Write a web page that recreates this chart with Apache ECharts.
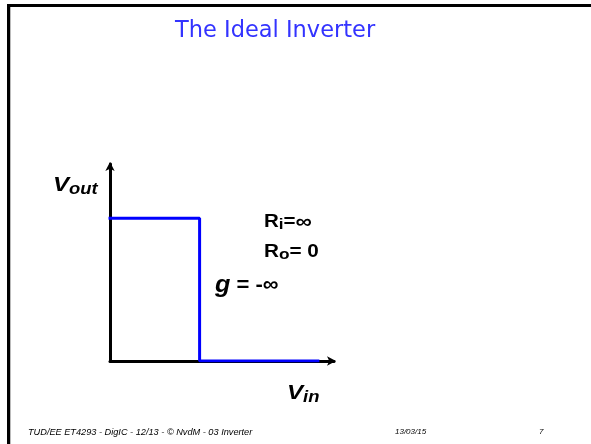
<!DOCTYPE html>
<html>
<head>
<meta charset="utf-8">
<script src="https://cdn.jsdelivr.net/npm/echarts@6/dist/echarts.min.js"></script>
<style>html,body{margin:0;padding:0;background:#fff}#c{width:591px;height:444px}</style>
</head>
<body>
<div id="c"></div>
<script>
// Transfer characteristic of the ideal inverter (Vin, Vout)
var vinValues = [0, 1, 1, 2.32];
var voutValues = [1, 1, 0, 0];
var titleText = 'The Ideal Inverter';
var footerLeft = 'TUD/EE ET4293 - DigIC - 12/13 - \u00a9 NvdM - 03 Inverter';
var footerDate = '13/03/15';
var footerPage = '7';

var seriesData = vinValues.map(function (v, i) { return [v, voutValues[i]]; });
var chart = echarts.init(document.getElementById('c'), null, {renderer: 'canvas'});
var F = 'Liberation Sans, Arial, sans-serif';
chart.setOption({
  animation: false,
  backgroundColor: '#fff',
  grid: {left: 110, top: 164, width: 224, height: 197, containLabel: false},
  xAxis: {
    type: 'value', min: 0, max: 2.5,
    axisLine: {show: true, onZero: false, symbol: ['none', 'arrow'], symbolSize: [7, 9], symbolOffset: [0, 2],
      lineStyle: {color: '#000', width: 3}},
    axisTick: {show: false}, axisLabel: {show: false}, splitLine: {show: false}
  },
  yAxis: {
    type: 'value', min: 0, max: 1.38,
    axisLine: {show: true, onZero: false, symbol: ['none', 'arrow'], symbolSize: [7, 9], symbolOffset: [0, 2],
      lineStyle: {color: '#000', width: 3}},
    axisTick: {show: false}, axisLabel: {show: false}, splitLine: {show: false}
  },
  series: [{
    type: 'line', data: seriesData, showSymbol: false, z: 5,
    lineStyle: {color: '#0000ff', width: 3, cap: 'square'}
  }],
  graphic: [
    {type: 'rect', shape: {x: 7, y: 4, width: 3, height: 440}, style: {fill: '#000'}},
    {type: 'rect', shape: {x: 7, y: 4, width: 584, height: 3}, style: {fill: '#000'}},
    {type: 'rect', shape: {x: 10, y: 7, width: 1, height: 437}, style: {fill: '#bbb'}},
    {type: 'text', left: 175, top: 20, style: {text: titleText, font: 'normal 22.5px DejaVu Sans, sans-serif', fill: '#3333ff'}},
    {type: 'text', x: 53, y: 171, scaleX: 1.15, style: {
      text: '{a|V}{b|out}', rich: {
        a: {font: 'italic bold 21px ' + F, fill: '#000', lineHeight: 28},
        b: {font: 'italic bold 16px ' + F, fill: '#000', lineHeight: 28, padding: [9, 0, 0, 0]}
      }}},
    {type: 'text', x: 264, y: 210, scaleX: 1.14, style: {
      text: '{a|R}{b|i}{a|=}{c|\u221e}', rich: {
        a: {font: 'bold 18px ' + F, fill: '#000', lineHeight: 24},
        b: {font: 'bold 15px ' + F, fill: '#000', lineHeight: 24, padding: [6, 0, 0, 0]},
        c: {font: 'bold 20px ' + F, fill: '#000', lineHeight: 24}
      }}},
    {type: 'text', x: 264, y: 240, scaleX: 1.15, style: {
      text: '{a|R}{b|o}{a|= 0}', rich: {
        a: {font: 'bold 18px ' + F, fill: '#000', lineHeight: 24},
        b: {font: 'bold 15px ' + F, fill: '#000', lineHeight: 24, padding: [6, 0, 0, 0]}
      }}},
    {type: 'text', x: 215, y: 271, scaleX: 1.05, style: {
      text: '{g|g}{a| = -\u221e}', rich: {
        g: {font: 'italic bold 24px ' + F, fill: '#000', lineHeight: 28},
        a: {font: 'bold 21px ' + F, fill: '#000', lineHeight: 28}
      }}},
    {type: 'text', x: 287, y: 379, scaleX: 1.15, style: {
      text: '{a|V}{b|in}', rich: {
        a: {font: 'italic bold 21px ' + F, fill: '#000', lineHeight: 28},
        b: {font: 'italic bold 16px ' + F, fill: '#000', lineHeight: 28, padding: [9, 0, 0, 0]}
      }}},
    {type: 'text', left: 28, top: 428, style: {text: footerLeft, font: 'italic 9.2px ' + F, fill: '#000'}},
    {type: 'text', left: 395, top: 428, style: {text: footerDate, font: 'italic 8px ' + F, fill: '#000'}},
    {type: 'text', left: 539, top: 428, style: {text: footerPage, font: 'italic 8px ' + F, fill: '#000'}}
  ]
});
</script>
</body>
</html>
